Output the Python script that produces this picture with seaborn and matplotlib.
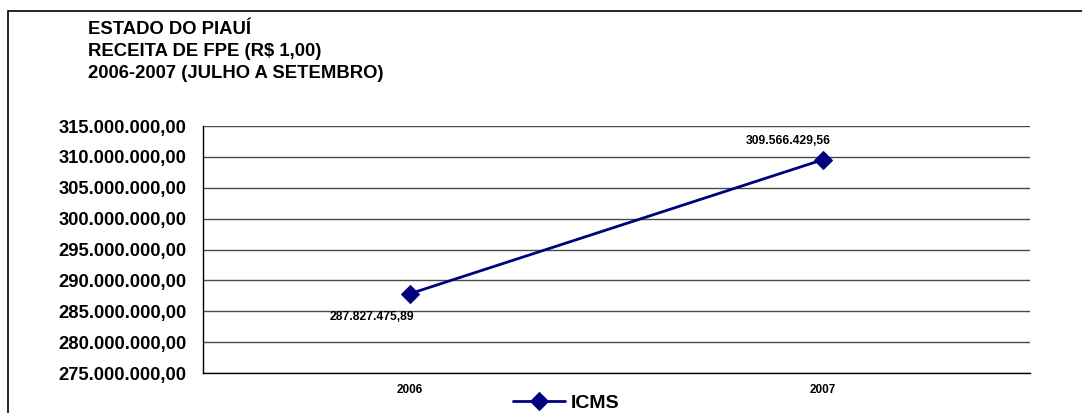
import matplotlib
matplotlib.use("Agg")
import matplotlib.pyplot as plt
from matplotlib.patches import Rectangle
from matplotlib.ticker import FuncFormatter, FixedLocator, NullFormatter
import seaborn as sns
import pandas as pd

years = ["2006", "2007"]
icms = [287827475.89, 309566429.56]
series_name = "ICMS"
title_lines = ["ESTADO DO PIAUÍ", "RECEITA DE FPE (R$ 1,00)", "2006-2007 (JULHO A SETEMBRO)"]
y_ticks = [275e6, 280e6, 285e6, 290e6, 295e6, 300e6, 305e6, 310e6, 315e6]


def br_money(v):
    s = f"{v:,.2f}"
    return s.replace(",", "X").replace(".", ",").replace("X", ".")


sns.set_theme(style="white")
plt.rcParams["font.family"] = ["Liberation Sans", "DejaVu Sans"]
plt.rcParams["font.weight"] = "bold"
plt.rcParams["text.color"] = "black"
plt.rcParams["xtick.color"] = "black"
plt.rcParams["ytick.color"] = "black"
plt.rcParams["axes.labelcolor"] = "black"

W, H = 1082, 413
fig = plt.figure(figsize=(W / 100, H / 100), dpi=100)
fig.patch.set_facecolor("white")

# chart-area frame, running off the right and bottom edges
fig.add_artist(Rectangle((8 / W, -0.1), 1.2, (1 - 11 / H) + 0.1,
                         transform=fig.transFigure, fill=False,
                         edgecolor="black", linewidth=1.2))

ax = fig.add_axes([203 / W, 1 - 373 / H, (1030 - 203) / W, (373 - 126) / H])

df = pd.DataFrame({"ano": pd.Categorical(years, categories=years), "valor": icms})
df["pos"] = df["ano"].cat.codes
sns.lineplot(data=df, x="pos", y="valor", ax=ax, color="#000080", linewidth=2,
             marker="D", markersize=9, markeredgecolor="#000080",
             label=series_name)

ax.set_ylim(y_ticks[0], y_ticks[-1])
ax.set_yticks(y_ticks)
ax.yaxis.set_major_formatter(FuncFormatter(lambda v, p: br_money(v)))
ax.grid(axis="y", color="#4a4a4a", linewidth=1)
ax.set_axisbelow(True)

ax.set_xlim(-0.5, len(years) - 0.5)
ax.xaxis.set_major_locator(FixedLocator([i - 0.5 for i in range(len(years) + 1)]))
ax.xaxis.set_major_formatter(NullFormatter())
ax.xaxis.set_minor_locator(FixedLocator(list(range(len(years)))))
ax.set_xticklabels(years, minor=True)
ax.tick_params(axis="x", which="major", direction="out", length=4, width=1, color="black")
ax.tick_params(axis="x", which="minor", length=0, pad=8, labelsize=8.5, labelcolor="black")
ax.tick_params(axis="y", direction="out", length=5, width=1, color="black",
               labelsize=13.2, pad=7, labelcolor="black")
for lab in ax.get_yticklabels() + ax.get_xticklabels(minor=True):
    lab.set_fontweight("bold")

ax.set_xlabel("")
ax.set_ylabel("")
for side in ("top", "right"):
    ax.spines[side].set_visible(False)
for side in ("left", "bottom"):
    ax.spines[side].set_color("black")
    ax.spines[side].set_linewidth(1)

# value labels
offsets = [(-27, -17), (-25, 13)]
for i, (v, off) in enumerate(zip(icms, offsets)):
    ax.annotate(br_money(v), (i, v), xytext=off, textcoords="offset points",
                ha="center", va="center", fontsize=8.7, fontweight="bold",
                color="black")

leg = ax.legend(loc="center", bbox_to_anchor=(566 / W, 1 - 403 / H),
                bbox_transform=fig.transFigure, frameon=False,
                prop={"weight": "bold", "size": 14}, handlelength=2.7,
                handletextpad=0.3, borderpad=0)
for t in leg.get_texts():
    t.set_color("black")

for k, t in enumerate(title_lines):
    fig.text(88 / W, 1 - (30 + 21.5 * k) / H, t, ha="left", va="center",
             fontsize=13.3, fontweight="bold", color="black")

fig.savefig("out.png", dpi=100, facecolor="white")
